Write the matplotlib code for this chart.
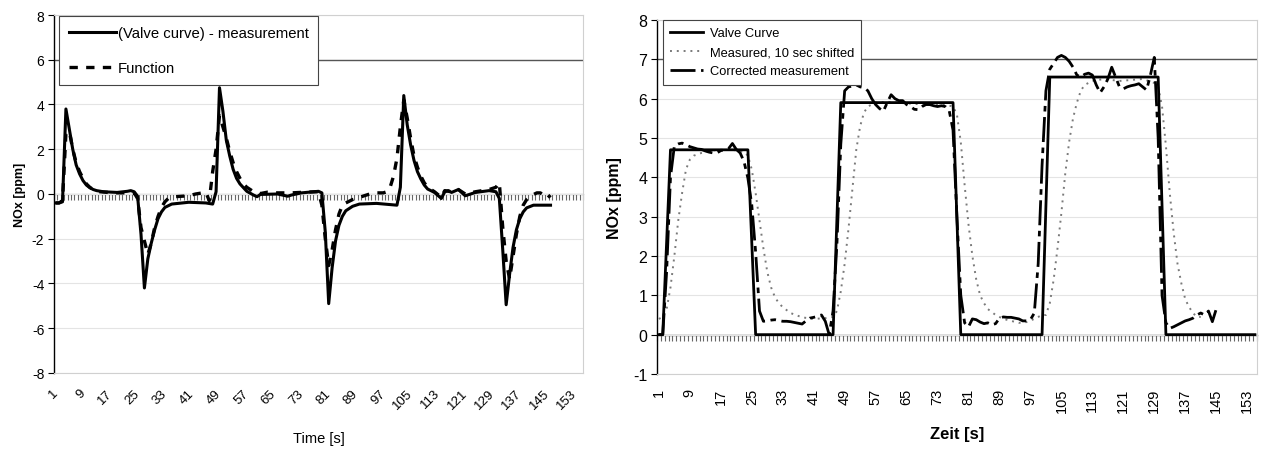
import numpy as np
import matplotlib
matplotlib.use("Agg")
import matplotlib.pyplot as plt

plt.rcParams['font.family'] = ['Liberation Sans', 'DejaVu Sans']
plt.rcParams['axes.unicode_minus'] = False

# ---------------- left chart: (valve curve) - measurement vs function ----------------
diff_t = [1, 2, 3, 4, 5, 6, 7, 8, 9, 10, 11, 12, 13, 15, 19, 22, 23, 24, 25, 26, 27, 28, 29, 30,
          31, 32, 33, 35, 40, 45, 47, 48, 49, 50, 51, 52, 53, 54, 55, 57, 59, 60, 61, 66, 69, 70,
          73, 78, 79, 80, 81, 82, 83, 84, 85, 86, 88, 90, 95, 101, 102, 103, 104, 105, 106, 107,
          108, 109, 110, 112, 114, 115, 116, 117, 119, 121, 124, 128, 130, 131, 132, 133, 134,
          135, 136, 137, 138, 139, 141, 146]
diff_v = [-0.4, -0.4, -0.35, 3.8, 2.9, 2.0, 1.3, 0.9, 0.6, 0.4, 0.28, 0.2, 0.15, 0.1, 0.07, 0.12,
          0.15, 0.1, -0.1, -1.8, -4.2, -2.9, -2.2, -1.6, -1.1, -0.8, -0.6, -0.45, -0.37, -0.4,
          -0.45, 0.1, 4.75, 3.7, 2.4, 1.7, 1.1, 0.7, 0.45, 0.12, -0.05, -0.12, -0.02, 0.0, -0.1,
          -0.05, 0.05, 0.12, 0.05, -1.7, -4.9, -3.3, -2.1, -1.4, -1.0, -0.75, -0.55, -0.45, -0.42,
          -0.5, 0.3, 4.4, 3.1, 2.2, 1.5, 1.0, 0.67, 0.4, 0.22, 0.07, -0.2, 0.1, 0.15, 0.07, 0.2,
          -0.08, 0.07, 0.15, 0.1, -0.2, -2.5, -4.95, -3.6, -2.4, -1.6, -1.1, -0.8, -0.62, -0.5,
          -0.5]

func_t = [1, 2, 3, 4, 5, 6, 7, 8, 9, 10, 11, 12, 14, 18, 24, 25, 26, 27, 28, 29, 30, 31, 32, 33,
          34, 36, 40, 42, 44, 45, 46, 47, 48, 49, 50, 51, 52, 53, 54, 55, 56, 57, 59, 61, 63, 66,
          70, 74, 78, 79, 80, 81, 82, 83, 84, 85, 86, 88, 90, 92, 94, 97, 98, 99, 100, 101, 102,
          103, 104, 105, 106, 107, 108, 109, 110, 112, 114, 115, 117, 119, 121, 124, 128, 130,
          131, 132, 133, 134, 135, 136, 137, 138, 139, 140, 142, 143, 144, 145, 146]
func_v = [-0.4, -0.4, -0.3, 2.7, 2.8, 2.0, 1.4, 1.0, 0.7, 0.45, 0.3, 0.2, 0.1, 0.05, 0.05, -0.2,
          -1.5, -2.1, -2.7, -2.2, -1.5, -1.0, -0.6, -0.35, -0.2, -0.12, -0.08, 0.0, 0.05, 0.08,
          -0.3, 1.0, 2.0, 3.5, 3.0, 2.5, 1.9, 1.4, 1.0, 0.7, 0.45, 0.3, 0.1, 0.02, 0.08, 0.05,
          0.05, 0.08, 0.1, -0.5, -2.0, -3.2, -2.5, -1.6, -0.9, -0.5, -0.4, -0.25, -0.15, -0.05,
          0.05, 0.05, 0.1, 0.3, 0.8, 1.6, 3.0, 4.2, 3.4, 2.5, 1.7, 1.2, 0.8, 0.5, 0.3, 0.1, -0.15,
          0.15, 0.1, 0.2, 0.0, 0.1, 0.2, 0.3, 0.5, -1.5, -3.0, -3.8, -2.8, -1.8, -1.0, -0.5, -0.25,
          -0.1, 0.05, 0.05, -0.05, -0.2, -0.05]

# ---------------- right chart: valve curve, shifted measurement, corrected ----------------
valve_t = [1, 2, 4, 24, 26, 46, 48, 77, 79, 100, 102, 130, 132, 155]
valve_v = [0, 0, 4.7, 4.7, 0, 0, 5.9, 5.9, 0, 0, 6.55, 6.55, 0, 0]

meas_t = [1, 2, 3, 4, 5, 6, 7, 8, 9, 10, 12, 16, 20, 23, 24, 25, 26, 27, 28, 29, 30, 31, 32, 33,
          35, 38, 41, 44, 46, 47, 48, 49, 50, 51, 52, 53, 54, 55, 57, 60, 65, 70, 75, 77, 78, 79,
          80, 81, 82, 83, 84, 85, 86, 88, 90, 92, 94, 96, 98, 99, 100, 101, 102, 103, 104, 105,
          106, 107, 108, 109, 110, 111, 113, 116, 120, 126, 129, 130, 131, 132, 133, 134, 135,
          136, 137, 138, 139, 140, 141]
meas_v = [0.4, 0.45, 0.65, 1.2, 2.0, 2.9, 3.6, 4.2, 4.45, 4.55, 4.62, 4.7, 4.7, 4.65, 4.55, 4.2,
          3.6, 2.9, 2.2, 1.6, 1.2, 0.95, 0.8, 0.7, 0.55, 0.44, 0.4, 0.42, 0.45, 0.6, 1.1, 1.8,
          2.7, 3.7, 4.7, 5.3, 5.65, 5.8, 5.9, 5.92, 5.88, 5.85, 5.85, 5.8, 5.6, 4.9, 3.8, 2.8,
          2.0, 1.4, 1.0, 0.8, 0.65, 0.5, 0.4, 0.35, 0.3, 0.32, 0.4, 0.45, 0.5, 0.5, 0.8, 1.4,
          2.2, 3.1, 4.1, 4.9, 5.5, 5.9, 6.2, 6.35, 6.45, 6.5, 6.45, 6.5, 6.4, 6.3, 5.8, 4.8, 3.6,
          2.6, 1.8, 1.3, 0.9, 0.7, 0.55, 0.45, 0.45]

corr_t = list(range(1, 146))
corr_v = [0, 0, 1.6, 4.0, 4.8, 4.85, 4.87, 4.83, 4.78, 4.75, 4.72, 4.71, 4.67, 4.64, 4.62, 4.62,
          4.68, 4.7, 4.73, 4.86, 4.71, 4.62, 4.4, 3.98, 3.3, 2.1, 0.6, 0.34, 0.35, 0.37, 0.38,
          0.36, 0.34, 0.34, 0.33, 0.31, 0.29, 0.27, 0.35, 0.42, 0.44, 0.47, 0.5, 0.34, 0.0, 0.6,
          2.3, 4.84, 6.2, 6.3, 6.32, 6.35, 6.3, 6.28, 6.2, 6.0, 5.85, 5.75, 5.68, 5.9, 6.1, 6.0,
          5.95, 5.95, 5.85, 5.8, 5.73, 5.72, 5.8, 5.85, 5.85, 5.82, 5.8, 5.82, 5.8, 5.7, 5.2, 3.0,
          1.0, 0.3, 0.2, 0.4, 0.38, 0.32, 0.28, 0.3, 0.25, 0.28, 0.42, 0.45, 0.44, 0.44, 0.42,
          0.4, 0.35, 0.35, 0.38, 0.55, 1.8, 4.3, 6.2, 6.75, 6.9, 7.05, 7.1, 7.05, 6.95, 6.8, 6.6,
          6.55, 6.62, 6.65, 6.6, 6.35, 6.15, 6.3, 6.5, 6.8, 6.55, 6.3, 6.25, 6.3, 6.33, 6.35,
          6.38, 6.3, 6.22, 6.6, 7.05, 5.0, 1.0, 0.3, 0.16, 0.2, 0.25, 0.3, 0.35, 0.38, 0.42, 0.5,
          0.55, 0.5, 0.6, 0.33, 0.65]

xlabels = list(range(1, 154, 8))
n_cat = 155

fig = plt.figure(figsize=(12.67, 4.52), dpi=100)
ax1 = fig.add_axes([0.0426, 0.1726, 0.4175, 0.792])
ax2 = fig.add_axes([0.5185, 0.1704, 0.4735, 0.7831])

grid_c = '#e4e4e4'


def style_axes(ax, ymin, ymax, xrot, tsize, xsize):
    ax.set_xlim(0.5, n_cat + 0.5)
    ax.set_ylim(ymin, ymax)
    ax.set_yticks(range(ymin, ymax + 1, 2 if ymin == -8 else 1))
    ax.grid(axis='y', color=grid_c, lw=0.8)
    ax.set_axisbelow(True)
    for s in ['top', 'right', 'bottom']:
        ax.spines[s].set_color('#d0d0d0')
        ax.spines[s].set_linewidth(0.8)
    ax.spines['left'].set_linewidth(1.0)
    ax.tick_params(axis='y', direction='out', length=4, width=0.8, labelsize=tsize, pad=3)
    ax.set_xticks(xlabels)
    if xrot == 45:
        ax.set_xticklabels([str(v) for v in xlabels], rotation=45, ha='right', va='center',
                           rotation_mode='anchor', fontsize=xsize)
        ax.tick_params(axis='x', length=0, pad=13)
    else:
        ax.set_xticklabels([str(v) for v in xlabels], rotation=90, ha='center', va='top',
                           fontsize=xsize)
        ax.tick_params(axis='x', length=0, pad=10)
    # category axis crossing at zero with a tick between every category
    frac = (0 - ymin) / (ymax - ymin)
    sec = ax.secondary_xaxis(frac)
    sec.set_xticks(np.arange(0.5, n_cat + 1, 1.0))
    sec.xaxis.set_ticks_position('bottom')
    sec.tick_params(axis='x', direction='out', length=4, width=0.8, color='#666666',
                    labelbottom=False, labeltop=False)
    sec.spines['bottom'].set_linewidth(1.0)
    sec.spines['bottom'].set_color('#555555')


style_axes(ax1, -8, 8, 45, 10, 9.5)
ax1.axhline(6, color='#555555', lw=1.0, zorder=1)
ax1.plot(diff_t, diff_v, color='black', lw=2.2, label='(Valve curve) - measurement', zorder=3)
ax1.plot(func_t, func_v, color='black', lw=2.4, dashes=(2.5, 2.5),
         label='Function', zorder=4)
ax1.set_ylabel('NOx [ppm]', fontsize=9, fontweight='bold', labelpad=4)
ax1.set_xlabel('Time [s]', fontsize=10.5, labelpad=14)
leg1 = ax1.legend(loc='upper left', bbox_to_anchor=(0.0466, 0.962),
                  bbox_transform=fig.transFigure, fontsize=10.7, frameon=True, fancybox=False,
                  borderaxespad=0, handlelength=3.2, labelspacing=1.45, borderpad=0.65,
                  handletextpad=0.1)
leg1.get_frame().set_edgecolor('#444444')
leg1.get_frame().set_linewidth(0.8)
leg1.get_frame().set_alpha(1)

style_axes(ax2, -1, 8, 90, 11.5, 10.5)
ax2.axhline(7, color='#555555', lw=1.0, zorder=1)
ax2.plot(valve_t, valve_v, color='black', lw=2.0, label='Valve Curve', zorder=3)
ax2.plot(meas_t, meas_v, color='#7a7a7a', lw=1.4, linestyle=(0, (1, 2.5)),
         label='Measured, 10 sec shifted', zorder=2)
ax2.plot(corr_t, corr_v, color='black', lw=2.0, linestyle=(0, (9, 2, 2, 2)),
         label='Corrected measurement', zorder=4)
ax2.set_ylabel('NOx [ppm]', fontsize=11.5, fontweight='bold', labelpad=8)
ax2.set_xlabel('Zeit [s]', fontsize=12, fontweight='bold', labelpad=10)
leg2 = ax2.legend(loc='upper left', bbox_to_anchor=(0.523, 0.9535),
                  bbox_transform=fig.transFigure, fontsize=9.3, frameon=True, fancybox=False,
                  borderaxespad=0, handlelength=2.6, labelspacing=0.55, borderpad=0.55,
                  handletextpad=0.5)
leg2.get_frame().set_edgecolor('#444444')
leg2.get_frame().set_linewidth(0.8)
leg2.get_frame().set_alpha(1)

fig.savefig('out.png', dpi=100)
